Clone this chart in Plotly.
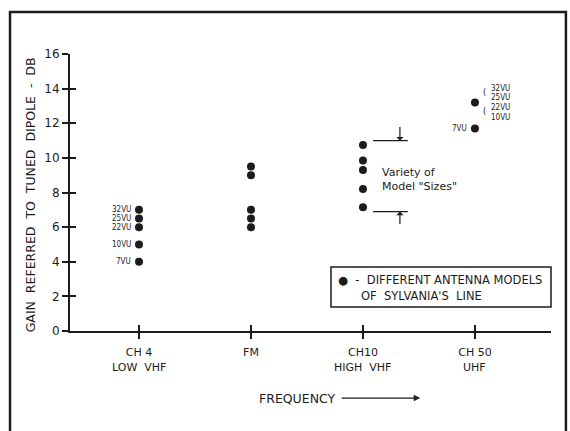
import plotly.graph_objects as go

# ---- data ----
categories = ["CH 4", "FM", "CH10", "CH 50"]
category_sub = ["LOW  VHF", "", "HIGH  VHF", "UHF"]
cat_pos = [1, 2, 3, 4]

ch4_gain = [7.0, 6.5, 6.0, 5.0, 4.0]
ch4_labels = ["32VU", "25VU", "22VU", "10VU", "7VU"]
fm_gain = [9.5, 9.0, 7.0, 6.5, 6.0]
ch10_gain = [10.75, 9.85, 9.3, 8.2, 7.15]
ch50_gain = [13.2, 11.7]
ch50_group_labels = ["32VU", "25VU", "22VU", "10VU"]  # share the 13.2 dB point
ch50_single_label = "7VU"

y_ticks = [0, 2, 4, 6, 8, 10, 12, 14, 16]
bracket_top, bracket_bottom = 11.0, 6.9

INK = "#1c1c1c"
FONT = "DejaVu Sans"
COND = "DejaVu Sans Condensed"

x_range = [0.384, 4.679]
y_range = [0, 16]

fig = go.Figure()

xs = ([cat_pos[0]] * len(ch4_gain) + [cat_pos[1]] * len(fm_gain)
      + [cat_pos[2]] * len(ch10_gain) + [cat_pos[3]] * len(ch50_gain))
ys = ch4_gain + fm_gain + ch10_gain + ch50_gain
fig.add_trace(go.Scatter(x=xs, y=ys, mode="markers",
                         marker=dict(size=8, color=INK, line=dict(width=0)),
                         showlegend=False, cliponaxis=False, hoverinfo="skip"))
# invisible trace on overlay axes (for inside tick marks)
fig.add_trace(go.Scatter(x=[None], y=[None], xaxis="x2", yaxis="y2",
                         showlegend=False, hoverinfo="skip"))

ann = []
# CH4 labels
for g, lab in zip(ch4_gain, ch4_labels):
    ann.append(dict(x=cat_pos[0], y=g, text=lab, showarrow=False, xanchor="right",
                    xshift=-6, font=dict(family=COND, size=8, color=INK)))
# CH50 labels
shifts = [14, 5, -5, -15]
for lab, s in zip(ch50_group_labels, shifts):
    ann.append(dict(x=cat_pos[3], y=ch50_gain[0], text=lab, showarrow=False,
                    xanchor="left", xshift=14, yshift=s,
                    font=dict(family=COND, size=8, color=INK)))
for s in [10, -9]:
    ann.append(dict(x=cat_pos[3], y=ch50_gain[0], text="(", showarrow=False,
                    xanchor="center", xshift=10, yshift=s,
                    font=dict(family=FONT, size=8, color=INK)))
ann.append(dict(x=cat_pos[3], y=ch50_gain[1], text=ch50_single_label, showarrow=False,
                xanchor="right", xshift=-6, font=dict(family=COND, size=8, color=INK)))

# second line of category labels
for p, sub in zip(cat_pos, category_sub):
    if sub:
        ann.append(dict(x=p, y=-0.130, yref="paper", text=sub, showarrow=False,
                        xanchor="center", yanchor="middle",
                        font=dict(family=FONT, size=11, color=INK)))

# variety bracket
ann.append(dict(x=3, y=8.78, text="Variety of<br>Model \"Sizes\"", showarrow=False,
                xanchor="left", yanchor="middle", align="left", xshift=17,
                font=dict(family=FONT, size=11, color=INK)))
ann.append(dict(x=3.33, y=bracket_top, ax=0, ay=-15, text="", showarrow=True,
                arrowhead=1, arrowsize=1, arrowwidth=1.2, arrowcolor=INK))
ann.append(dict(x=3.33, y=bracket_bottom, ax=0, ay=14, text="", showarrow=True,
                arrowhead=1, arrowsize=1, arrowwidth=1.2, arrowcolor=INK))

# legend box text
ann.append(dict(x=0.552, y=0.184, xref="paper", yref="paper", text="●  -  DIFFERENT ANTENNA MODELS",
                showarrow=False, xanchor="left", yanchor="middle",
                font=dict(family=FONT, size=11.5, color=INK)))
ann.append(dict(x=0.600, y=0.128, xref="paper", yref="paper", text="OF  SYLVANIA'S  LINE",
                showarrow=False, xanchor="left", yanchor="middle",
                font=dict(family=FONT, size=11.5, color=INK)))

# y title
ann.append(dict(x=-0.083, y=0.49, xref="paper", yref="paper",
                text="GAIN\u00a0\u00a0REFERRED\u00a0\u00a0TO\u00a0\u00a0TUNED\u00a0\u00a0DIPOLE\u00a0\u00a0-\u00a0\u00a0DB",
                textangle=-90, showarrow=False, xanchor="center", yanchor="middle",
                font=dict(family=FONT, size=12.5, color=INK)))
# x title with arrow
ann.append(dict(x=0.474, y=-0.242, xref="paper", yref="paper", text="FREQUENCY",
                showarrow=False, xanchor="center", yanchor="middle",
                font=dict(family=FONT, size=12.5, color=INK)))
ann.append(dict(x=0.728, y=-0.242, xref="paper", yref="paper", ax=-80, ay=0, text="",
                showarrow=True, arrowhead=2, arrowsize=1, arrowwidth=1.3, arrowcolor=INK))

shapes = [
    # outer frame
    dict(type="rect", xref="paper", yref="paper", x0=-0.1247, x1=1.031, y0=-0.45, y1=1.152,
         line=dict(color=INK, width=2.5)),
    # legend box
    dict(type="rect", xref="paper", yref="paper", x0=0.5426, x1=1.0, y0=0.0866, y1=0.231,
         line=dict(color=INK, width=1.5), fillcolor="white", layer="below"),
    # bracket lines
    dict(type="line", x0=3.09, x1=3.40, y0=bracket_top, y1=bracket_top,
         line=dict(color=INK, width=1.3)),
    dict(type="line", x0=3.09, x1=3.40, y0=bracket_bottom, y1=bracket_bottom,
         line=dict(color=INK, width=1.3)),
]

axis_common = dict(showgrid=False, zeroline=False)
fig.update_layout(
    width=570, height=431,
    margin=dict(l=70, r=19, t=54, b=100),
    paper_bgcolor="white", plot_bgcolor="white",
    xaxis=dict(range=x_range, tickvals=cat_pos, ticktext=categories, ticks="outside",
               ticklen=6, tickwidth=1.5, tickcolor=INK, showline=True, linecolor=INK,
               linewidth=2, ticklabelstandoff=4,
               tickfont=dict(family=FONT, size=11, color=INK), **axis_common),
    yaxis=dict(range=y_range, tickvals=y_ticks, ticks="outside", ticklen=6, tickwidth=1.5,
               tickcolor=INK, showline=True, linecolor=INK, linewidth=2,
               tickfont=dict(family=FONT, size=12, color=INK), **axis_common),
    xaxis2=dict(range=x_range, overlaying="x", anchor="y2", side="bottom", tickvals=cat_pos,
                ticks="inside", ticklen=6, tickwidth=1.5, tickcolor=INK,
                showticklabels=False, showline=False, **axis_common),
    yaxis2=dict(range=y_range, overlaying="y", anchor="x2", side="left", tickvals=y_ticks,
                ticks="inside", ticklen=6, tickwidth=1.5, tickcolor=INK,
                showticklabels=False, showline=False, **axis_common),
    annotations=ann, shapes=shapes, showlegend=False,
)

fig.write_html("out.html", config={"displayModeBar": False},
               post_script="document.body.style.margin='0';document.body.style.overflow='hidden';")
